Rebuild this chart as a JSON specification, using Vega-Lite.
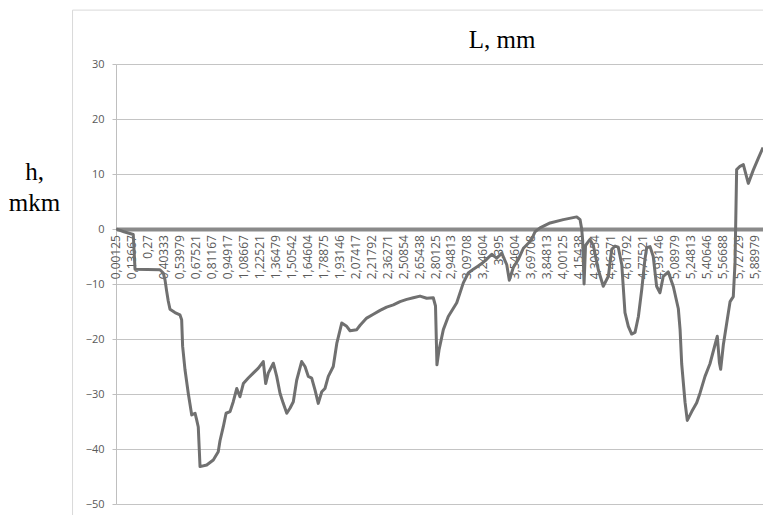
{
  "$schema": "https://vega.github.io/schema/vega-lite/v6.json",
  "width": 647,
  "height": 440,
  "autosize": "none",
  "padding": {"left": 116, "top": 64, "right": 0, "bottom": 11},
  "background": "white",
  "config": {"view": {"stroke": null}},
  "layer": [
    {
      "data": {"values": [
        {"i": 0, "lab": "0,00125"}, {"i": 1, "lab": "0,13667"}, {"i": 2, "lab": "0,27"}, {"i": 3, "lab": "0,40333"},
        {"i": 4, "lab": "0,53979"}, {"i": 5, "lab": "0,67521"}, {"i": 6, "lab": "0,81167"}, {"i": 7, "lab": "0,94917"},
        {"i": 8, "lab": "1,08667"}, {"i": 9, "lab": "1,22521"}, {"i": 10, "lab": "1,36479"}, {"i": 11, "lab": "1,50542"},
        {"i": 12, "lab": "1,64604"}, {"i": 13, "lab": "1,78875"}, {"i": 14, "lab": "1,93146"}, {"i": 15, "lab": "2,07417"},
        {"i": 16, "lab": "2,21792"}, {"i": 17, "lab": "2,36271"}, {"i": 18, "lab": "2,50854"}, {"i": 19, "lab": "2,65438"},
        {"i": 20, "lab": "2,80125"}, {"i": 21, "lab": "2,94813"}, {"i": 22, "lab": "3,09708"}, {"i": 23, "lab": "3,24604"},
        {"i": 24, "lab": "3,395"}, {"i": 25, "lab": "3,54604"}, {"i": 26, "lab": "3,69708"}, {"i": 27, "lab": "3,84813"},
        {"i": 28, "lab": "4,00125"}, {"i": 29, "lab": "4,15438"}, {"i": 30, "lab": "4,30854"}, {"i": 31, "lab": "4,46271"},
        {"i": 32, "lab": "4,61792"}, {"i": 33, "lab": "4,77521"}, {"i": 34, "lab": "4,93146"}, {"i": 35, "lab": "5,08979"},
        {"i": 36, "lab": "5,24813"}, {"i": 37, "lab": "5,40646"}, {"i": 38, "lab": "5,56688"}, {"i": 39, "lab": "5,72729"},
        {"i": 40, "lab": "5,88979"}
      ]},
      "mark": {"type": "text", "angle": 270, "align": "right", "baseline": "middle", "font": "Open Sans", "fontSize": 12, "color": "#595959"},
      "encoding": {
        "x": {"field": "i", "type": "quantitative", "scale": {"domain": [0, 40.5], "nice": false, "zero": false}},
        "y": {"datum": -1.1, "type": "quantitative"},
        "text": {"field": "lab", "type": "nominal"}
      }
    },
    {
      "data": {"values": [
        {"i": 0, "h": 0}, {"i": 0.5, "h": -0.5}, {"i": 1.08, "h": -1}, {"i": 1.19, "h": -7.3},
        {"i": 2.75, "h": -7.4}, {"i": 2.96, "h": -8}, {"i": 3.07, "h": -9.3}, {"i": 3.17, "h": -11.3},
        {"i": 3.27, "h": -13.1}, {"i": 3.38, "h": -14.6}, {"i": 3.69, "h": -15.2}, {"i": 4.0, "h": -15.6},
        {"i": 4.11, "h": -16.5}, {"i": 4.17, "h": -21.3}, {"i": 4.32, "h": -25.6}, {"i": 4.53, "h": -30},
        {"i": 4.74, "h": -33.8}, {"i": 4.95, "h": -33.5}, {"i": 5.05, "h": -34.7}, {"i": 5.15, "h": -36},
        {"i": 5.26, "h": -43.2}, {"i": 5.68, "h": -42.9}, {"i": 6.09, "h": -42}, {"i": 6.4, "h": -40.5},
        {"i": 6.51, "h": -38.5}, {"i": 6.72, "h": -35.9}, {"i": 6.89, "h": -33.5}, {"i": 7.14, "h": -33.2},
        {"i": 7.34, "h": -31.4}, {"i": 7.56, "h": -29}, {"i": 7.76, "h": -30.5}, {"i": 7.97, "h": -28.1},
        {"i": 8.28, "h": -27.1}, {"i": 8.59, "h": -26.2}, {"i": 8.91, "h": -25.3}, {"i": 9.22, "h": -24.1},
        {"i": 9.37, "h": -28.1}, {"i": 9.53, "h": -26.2}, {"i": 9.85, "h": -24.4}, {"i": 10.06, "h": -26.8},
        {"i": 10.27, "h": -29.9}, {"i": 10.47, "h": -31.7}, {"i": 10.69, "h": -33.5}, {"i": 10.89, "h": -32.6},
        {"i": 11.1, "h": -31.4}, {"i": 11.31, "h": -27.5}, {"i": 11.62, "h": -24.1}, {"i": 11.83, "h": -25},
        {"i": 12.04, "h": -26.8}, {"i": 12.25, "h": -27.1}, {"i": 12.46, "h": -29.3}, {"i": 12.66, "h": -31.7},
        {"i": 12.88, "h": -29.6}, {"i": 13.08, "h": -29}, {"i": 13.29, "h": -26.8}, {"i": 13.6, "h": -25},
        {"i": 13.82, "h": -20.8}, {"i": 14.13, "h": -17.1}, {"i": 14.44, "h": -17.7}, {"i": 14.65, "h": -18.5},
        {"i": 15.07, "h": -18.3}, {"i": 15.28, "h": -17.5}, {"i": 15.69, "h": -16.2}, {"i": 16.11, "h": -15.5},
        {"i": 16.53, "h": -14.8}, {"i": 16.94, "h": -14.2}, {"i": 17.36, "h": -13.8}, {"i": 17.78, "h": -13.2},
        {"i": 18.2, "h": -12.8}, {"i": 18.61, "h": -12.5}, {"i": 19.03, "h": -12.2}, {"i": 19.45, "h": -12.6},
        {"i": 19.86, "h": -12.5}, {"i": 20.0, "h": -14}, {"i": 20.09, "h": -24.7}, {"i": 20.22, "h": -22},
        {"i": 20.49, "h": -18.3}, {"i": 20.8, "h": -15.9}, {"i": 21.33, "h": -13.4}, {"i": 21.74, "h": -9.8},
        {"i": 22.05, "h": -8}, {"i": 22.37, "h": -7.3}, {"i": 22.79, "h": -6.5}, {"i": 23.1, "h": -5.8},
        {"i": 23.52, "h": -4.6}, {"i": 23.83, "h": -5.3}, {"i": 24.15, "h": -4.4}, {"i": 24.46, "h": -6.5},
        {"i": 24.62, "h": -9.3}, {"i": 24.87, "h": -7}, {"i": 25.19, "h": -5.5}, {"i": 25.5, "h": -3.5},
        {"i": 25.81, "h": -2.6}, {"i": 26.02, "h": -1.9}, {"i": 26.23, "h": -0.5}, {"i": 26.54, "h": 0.2},
        {"i": 27.17, "h": 1.1}, {"i": 28.0, "h": 1.7}, {"i": 28.84, "h": 2.2}, {"i": 29.05, "h": 1.7},
        {"i": 29.15, "h": 0}, {"i": 29.21, "h": -2}, {"i": 29.3, "h": -10}, {"i": 29.39, "h": -3},
        {"i": 29.67, "h": -1.9}, {"i": 29.88, "h": -3}, {"i": 30.19, "h": -7.4}, {"i": 30.5, "h": -10.4},
        {"i": 30.82, "h": -8.6}, {"i": 31.03, "h": -3.7}, {"i": 31.24, "h": -3.1}, {"i": 31.44, "h": -3.3},
        {"i": 31.66, "h": -6.5}, {"i": 31.86, "h": -15.2}, {"i": 32.07, "h": -17.7}, {"i": 32.28, "h": -19.1},
        {"i": 32.49, "h": -18.8}, {"i": 32.7, "h": -15.9}, {"i": 32.91, "h": -11}, {"i": 33.11, "h": -5.5},
        {"i": 33.22, "h": -3.4}, {"i": 33.43, "h": -3.2}, {"i": 33.63, "h": -5}, {"i": 33.84, "h": -10.4},
        {"i": 34.05, "h": -11.6}, {"i": 34.26, "h": -8.6}, {"i": 34.57, "h": -7.8}, {"i": 34.89, "h": -10.5},
        {"i": 35.2, "h": -14.5}, {"i": 35.31, "h": -18.3}, {"i": 35.41, "h": -24.5}, {"i": 35.62, "h": -31.5},
        {"i": 35.76, "h": -34.8}, {"i": 36.04, "h": -33.2}, {"i": 36.35, "h": -31.6}, {"i": 36.56, "h": -29.8},
        {"i": 36.87, "h": -26.8}, {"i": 37.18, "h": -24.5}, {"i": 37.5, "h": -21}, {"i": 37.64, "h": -19.5},
        {"i": 37.77, "h": -24.3}, {"i": 37.85, "h": -25.5}, {"i": 38.02, "h": -21}, {"i": 38.23, "h": -17.1},
        {"i": 38.44, "h": -13.2}, {"i": 38.64, "h": -12.3}, {"i": 38.75, "h": -6.1}, {"i": 38.85, "h": 10.8},
        {"i": 39.06, "h": 11.4}, {"i": 39.27, "h": 11.7}, {"i": 39.58, "h": 8.3}, {"i": 39.89, "h": 10.7},
        {"i": 40.21, "h": 12.9}, {"i": 40.5, "h": 14.8}
      ]},
      "mark": {"type": "line", "color": "#707070", "strokeWidth": 3, "strokeJoin": "round", "clip": true},
      "encoding": {
        "x": {
          "field": "i", "type": "quantitative",
          "scale": {"domain": [0, 40.5], "nice": false, "zero": false},
          "axis": {
            "labels": false, "ticks": false, "grid": false,
            "domainColor": "#8a8a8a", "domainWidth": 4,
            "offset": -275,
            "title": "L, mm", "titleFont": "Liberation Serif", "titleFontSize": 25, "titleFontWeight": "normal",
            "titleColor": "#000000", "titleX": 385.5, "titleY": -182, "titleAlign": "center",
            "titleBaseline": "alphabetic", "titleAngle": 0
          }
        },
        "y": {
          "field": "h", "type": "quantitative",
          "scale": {"domain": [-50, 30], "nice": false},
          "axis": {
            "values": [-50, -40, -30, -20, -10, 0, 10, 20, 30],
            "labelFontSize": 11, "labelFont": "Open Sans", "labelColor": "#595959", "labelPadding": 8,
            "tickSize": 4, "tickColor": "#bfbfbf", "domainColor": "#bfbfbf",
            "grid": true, "gridColor": "#c4c4c4",
            "title": ["h,", "mkm"], "titleAngle": 0, "titleFont": "Liberation Serif", "titleFontSize": 25,
            "titleFontWeight": "normal", "titleColor": "#000000", "titleX": -82, "titleY": 115,
            "titleAlign": "center", "titleBaseline": "alphabetic", "titleLineHeight": 31
          }
        }
      }
    },
    {
      "data": {"values": [{"frame": "chart area"}]},
      "mark": {"type": "rect", "fill": null, "stroke": "#d9d9d9", "strokeWidth": 1, "clip": false},
      "encoding": {
        "x": {"datum": -2.72, "type": "quantitative"},
        "x2": {"datum": 45},
        "y": {"datum": 39.8, "type": "quantitative"},
        "y2": {"datum": -70}
      }
    }
  ]
}
